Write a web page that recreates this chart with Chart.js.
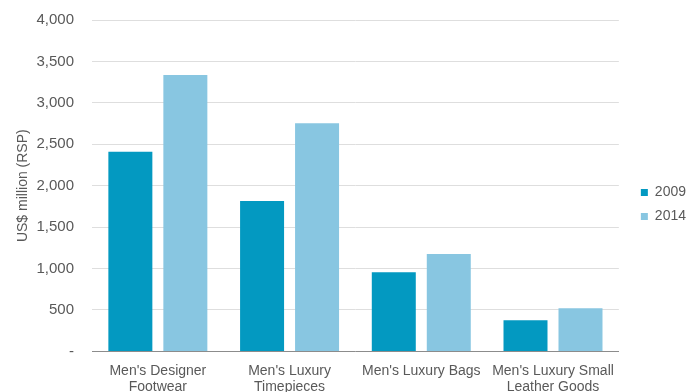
<!DOCTYPE html>
<html>
<head>
<meta charset="utf-8">
<script src="https://cdn.jsdelivr.net/npm/chart.js@4"></script>
<style>
    html, body { margin: 0; padding: 0; background: #fff; overflow: hidden; }
    #wrap { width: 689px; height: 407px; position: relative; }
</style>
</head>
<body>
<div id="wrap"><canvas id="grafico"></canvas></div>
<script>
const categorias = [
    ["Men's Designer", "Footwear"],
    ["Men's Luxury", "Timepieces"],
    "Men's Luxury Bags",
    ["Men's Luxury Small", "Leather Goods"]
];
const valores2009 = [2410, 1815, 955, 375];
const valores2014 = [3335, 2755, 1175, 520];

const cinza = '#595959';
const fonte = 'Liberation Sans, Arial, sans-serif';

// empurra a legenda para a direita e para cima, sem mexer na área do gráfico
const deslocaLegenda = {
    id: 'deslocaLegenda',
    afterLayout(chart) {
        chart.legend.left += 12;
        chart.legend.right += 12;
        chart.legend.top -= 9;
        chart.legend.bottom -= 9;
    }
};

new Chart(document.getElementById('grafico'), {
    type: 'bar',
    data: {
        labels: categorias,
        datasets: [
            { label: '2009', data: valores2009, backgroundColor: '#0399c1', barPercentage: 0.8, categoryPercentage: 0.835 },
            { label: '2014', data: valores2014, backgroundColor: '#88c6e1', barPercentage: 0.8, categoryPercentage: 0.835 }
        ]
    },
    options: {
        responsive: true,
        maintainAspectRatio: false,
        animation: false,
        layout: { padding: { left: 12, right: 5, top: 20, bottom: 0 } },
        plugins: {
            legend: {
                position: 'right',
                labels: {
                    boxWidth: 7,
                    boxHeight: 7,
                    padding: 10,
                    color: cinza,
                    font: { family: fonte, size: 14 }
                }
            },
            tooltip: { enabled: false }
        },
        scales: {
            x: {
                grid: { display: false, drawTicks: false },
                border: { display: true, color: '#8c8c8c' },
                ticks: {
                    color: cinza,
                    maxRotation: 0,
                    autoSkip: false,
                    padding: 11,
                    font: { family: fonte, size: 14 }
                }
            },
            y: {
                min: 0,
                max: 4000,
                afterFit: s => { s.width = 80; },
                // traço invisível faz o espaço entre rótulo e linha
                grid: { color: '#dedede', drawTicks: true, tickLength: 18, tickColor: 'rgba(0,0,0,0)' },
                border: { display: false },
                ticks: {
                    stepSize: 500,
                    color: cinza,
                    padding: 0,
                    font: { family: fonte, size: 15 },
                    callback: v => v === 0 ? '-' : v.toLocaleString('en-US')
                },
                title: {
                    display: true,
                    text: 'US$ million (RSP)',
                    color: cinza,
                    padding: 3,
                    font: { family: fonte, size: 14 }
                }
            }
        }
    },
    plugins: [deslocaLegenda]
});
</script>
</body>
</html>
